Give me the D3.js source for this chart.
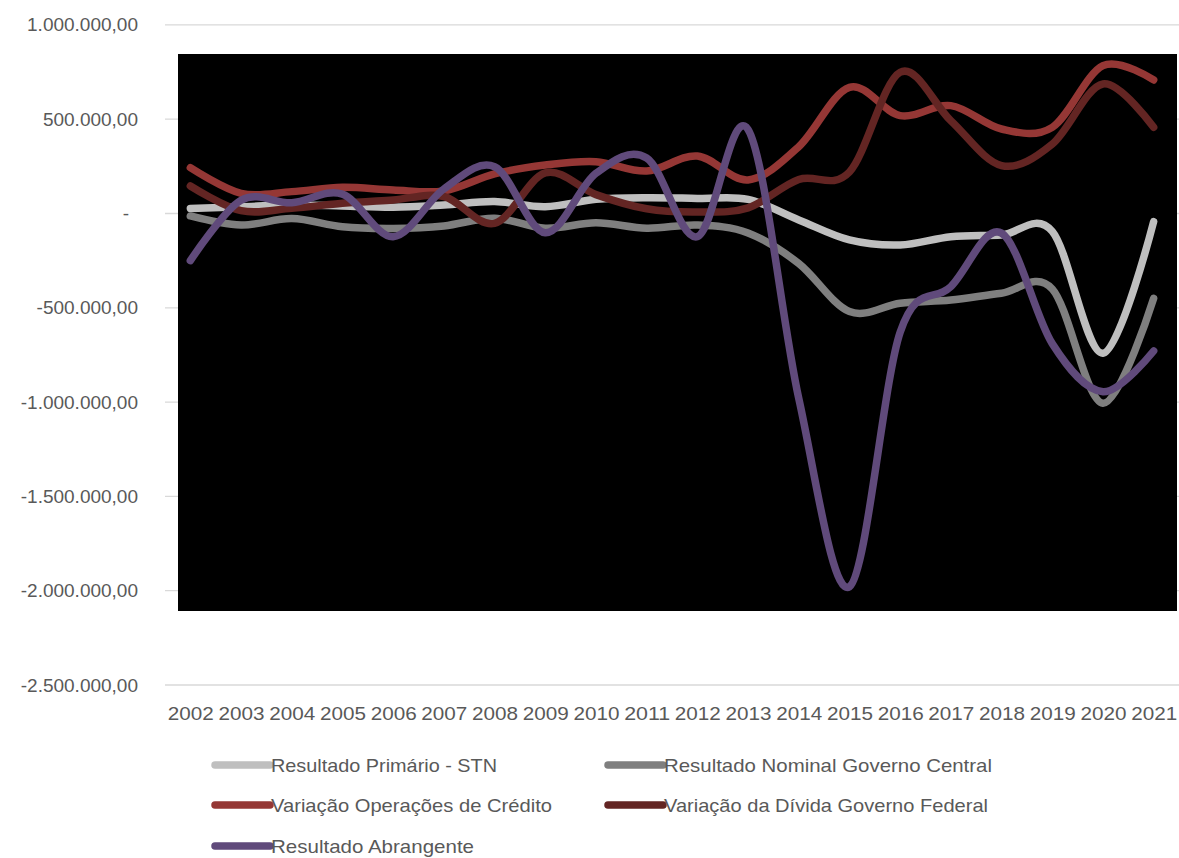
<!DOCTYPE html>
<html>
<head>
<meta charset="utf-8">
<script src="https://cdn.jsdelivr.net/npm/d3@7"></script>
<style>
  html, body { margin: 0; padding: 0; background: #ffffff; }
  svg { display: block; }
  text { font-family: "Liberation Sans", Arial, sans-serif; fill: #595959; }
</style>
</head>
<body>
<svg id="chart" width="1179" height="858"></svg>
<script>
const years = ["2002","2003","2004","2005","2006","2007","2008","2009","2010","2011",
               "2012","2013","2014","2015","2016","2017","2018","2019","2020","2021"];

const seriesNames = [
  "Resultado Primário - STN",
  "Resultado Nominal Governo Central",
  "Variação Operações de Crédito",
  "Variação da Dívida Governo Federal",
  "Resultado Abrangente"
];

const resultadoPrimario = [27000, 36000, 45000, 40000, 33000, 45000, 63000, 36000, 75000, 84000,
                           80000, 75000, -34000, -140000, -167000, -123000, -114000, -95000, -741000, -43000];
const resultadoNominal = [-13000, -61000, -27000, -70000, -79000, -66000, -25000, -78000, -49000, -78000,
                          -61000, -103000, -265000, -520000, -476000, -459000, -423000, -400000, -1006000, -450000];
const variacaoOperacoes = [243000, 107000, 116000, 139000, 125000, 120000, 210000, 257000, 275000, 225000,
                           305000, 178000, 354000, 669000, 519000, 572000, 448000, 457000, 784000, 708000];
const variacaoDivida = [146000, 15000, 28000, 54000, 72000, 90000, -52000, 215000, 100000, 25000,
                        8000, 30000, 180000, 220000, 749000, 492000, 254000, 368000, 687000, 457000];
const resultadoAbrangente = [-250000, 70000, 57000, 103000, -123000, 130000, 248000, -102000, 213000, 294000,
                             -123000, 446000, -980000, -1979000, -630000, -388000, -104000, -690000, -945000, -729000];

const yTicks = [1000000, 500000, 0, -500000, -1000000, -1500000, -2000000, -2500000];

const seriesValues = [resultadoPrimario, resultadoNominal, variacaoOperacoes, variacaoDivida, resultadoAbrangente];
const seriesColors = ["#BFBFBF", "#7F7F7F", "#953735", "#632523", "#604A7B"];

const svg = d3.select("#chart");

const x = d3.scalePoint().domain(years).range([165, 1179]).padding(0.5);
const y = d3.scaleLinear().domain([-2500000, 1000000]).range([685, 24.9]);

const loc = d3.formatLocale({decimal: ",", thousands: ".", grouping: [3], currency: ["", ""], minus: "-"});
const fmt = loc.format(",.2f");

// gridlines
svg.append("g").selectAll("line").data(yTicks).join("line")
  .attr("x1", 165).attr("x2", 1179)
  .attr("y1", d => y(d)).attr("y2", d => y(d))
  .attr("stroke", "#D9D9D9").attr("stroke-width", 1.3);

// plot area (black fill)
svg.append("rect").attr("x", 178).attr("y", 54).attr("width", 999).attr("height", 557).attr("fill", "#000000");

// y axis labels
const yAxis = d3.axisLeft(y).tickValues(yTicks).tickSize(0).tickPadding(0)
  .tickFormat(d => d === 0 ? "-" : fmt(d));
const gy = svg.append("g").attr("transform", "translate(138,0)").call(yAxis);
gy.select(".domain").remove();
gy.selectAll("text").style("font-size", "19px").attr("fill", "#595959")
  .attr("font-family", "Liberation Sans, Arial, sans-serif")
  .attr("dx", d => d === 0 ? -9 : 0);

// x axis labels
const xAxis = d3.axisBottom(x).tickSize(0).tickPadding(0);
const gx = svg.append("g").attr("transform", "translate(0,706)").call(xAxis);
gx.select(".domain").remove();
gx.selectAll("text").style("font-size", "19px").attr("fill", "#595959")
  .attr("font-family", "Liberation Sans, Arial, sans-serif")
  .attr("textLength", 46).attr("lengthAdjust", "spacingAndGlyphs");

// lines
const line = d3.line()
  .x((d, i) => x(years[i]))
  .y(d => y(d))
  .curve(d3.curveCardinal.tension(0));

svg.append("g").selectAll("path").data(seriesValues).join("path")
  .attr("d", d => line(d))
  .attr("fill", "none")
  .attr("stroke", (d, i) => seriesColors[i])
  .attr("stroke-width", 7.5)
  .attr("stroke-linecap", "round")
  .attr("stroke-linejoin", "round");

// legend
const legendPos = [
  {lx: 215, ly: 765}, {lx: 608, ly: 765},
  {lx: 215, ly: 805}, {lx: 608, ly: 805},
  {lx: 215, ly: 846}
];
const legendWidths = [226, 328, 281, 324, 203];
const lg = svg.append("g").selectAll("g").data(seriesNames).join("g")
  .attr("transform", (d, i) => `translate(${legendPos[i].lx},${legendPos[i].ly})`);
lg.append("line").attr("x1", 0).attr("x2", 55).attr("y1", 0).attr("y2", 0)
  .attr("stroke", (d, i) => seriesColors[i]).attr("stroke-width", 7.5).attr("stroke-linecap", "round");
lg.append("text").attr("x", 56).attr("y", 0).attr("dy", "0.35em")
  .style("font-size", "19px")
  .attr("textLength", (d, i) => legendWidths[i]).attr("lengthAdjust", "spacingAndGlyphs")
  .text(d => d);
</script>
</body>
</html>
